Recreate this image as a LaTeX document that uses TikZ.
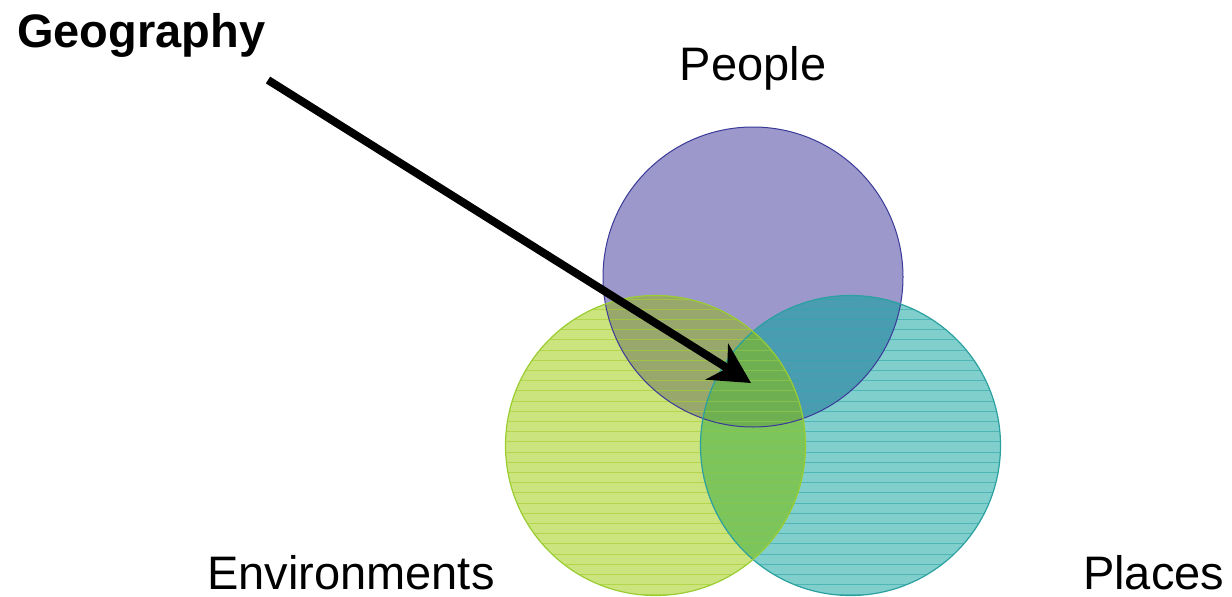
\documentclass[tikz,border=0pt]{standalone}
\usepackage{fontspec}
\setmainfont{Liberation Sans}
\usetikzlibrary{arrows.meta}
\definecolor{pplfill}{HTML}{9C98CC}
\definecolor{envfill}{HTML}{CCE47E}
\definecolor{plcfill}{HTML}{80CFCC}
\definecolor{pefill}{HTML}{98A86C}
\definecolor{plfill}{HTML}{4A9CB0}
\definecolor{elfill}{HTML}{7CC45C}
\definecolor{pelfill}{HTML}{6EAF52}
\definecolor{envline}{HTML}{A6D030}
\definecolor{plcline}{HTML}{2EA6A6}
\definecolor{pplline}{HTML}{3A3A98}
\definecolor{envedge}{HTML}{9ACD32}
\definecolor{plcedge}{HTML}{2AA0A0}
\tikzset{
  label text/.style={font=\fontsize{47}{56}\selectfont, inner sep=0pt},
  title text/.style={font=\fontsize{47}{56}\selectfont\bfseries, inner sep=0pt},
  hatch green/.style={draw=envline, line width=1.1pt, opacity=0.65},
  hatch teal/.style={draw=plcline, line width=1.1pt, opacity=0.6},
  big arrow/.style={line width=8pt, -{Stealth[length=40pt,width=42pt,inset=12pt]}}
}
\begin{document}
\begin{tikzpicture}[x=1pt,y=-1pt]
\useasboundingbox (0,0) rectangle (1232,597);
\coordinate (cP) at (753,277);
\coordinate (cE) at (655.5,445.5);
\coordinate (cL) at (850.5,445.5);
\def\R{150pt}
% single fills
\fill[pplfill] (cP) circle[radius=\R];
\fill[plcfill] (cL) circle[radius=\R];
\fill[envfill] (cE) circle[radius=\R];
% pair overlaps
\begin{scope}
  \clip (cE) circle[radius=\R];
  \fill[elfill] (cL) circle[radius=\R];
\end{scope}
\begin{scope}
  \clip (cP) circle[radius=\R];
  \fill[pefill] (cE) circle[radius=\R];
  \fill[plfill] (cL) circle[radius=\R];
\end{scope}
\begin{scope}
  \clip (cP) circle[radius=\R];
  \clip (cE) circle[radius=\R];
  \fill[pelfill] (cL) circle[radius=\R];
\end{scope}
% hatching
\begin{scope}
  \clip (cL) circle[radius=\R];
  \foreach \k in {-14,...,16} {
    \draw[hatch teal] (695,431.7+10.2*\k) -- (1005,431.7+10.2*\k);
  }
\end{scope}
\begin{scope}
  \clip (cE) circle[radius=\R];
  \foreach \k in {-14,...,16} {
    \draw[hatch green] (500,431.7+10.2*\k) -- (810,431.7+10.2*\k);
  }
\end{scope}
% outlines
\draw[pplline, line width=1pt] (cP) circle[radius=\R];
\draw[plcedge, line width=1.2pt] (cL) circle[radius=\R];
\draw[envedge, line width=1.2pt] (cE) circle[radius=\R];
% labels
\node[title text, anchor=base west] (geo) at (17,47) {Geography};
\node[label text, anchor=base] (people) at (753,80) {People};
\node[label text, anchor=base west] (env) at (207,589) {Environments};
\node[label text, anchor=base west] (places) at (1083,589) {Places};
% arrow
\coordinate (astart) at (268,80);
\coordinate (atip) at (751,383);
\draw[big arrow] (astart) -- (atip);
\end{tikzpicture}
\end{document}
